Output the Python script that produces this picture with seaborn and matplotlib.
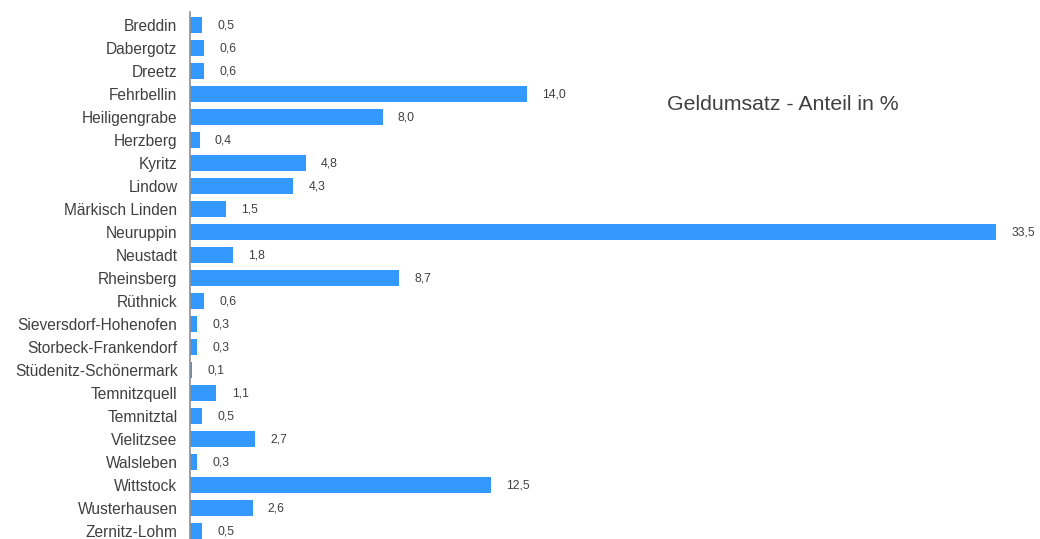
import pandas as pd
import seaborn as sns
import matplotlib.pyplot as plt

gemeinden = ['Breddin', 'Dabergotz', 'Dreetz', 'Fehrbellin', 'Heiligengrabe', 'Herzberg',
             'Kyritz', 'Lindow', 'Märkisch Linden', 'Neuruppin', 'Neustadt', 'Rheinsberg',
             'Rüthnick', 'Sieversdorf-Hohenofen', 'Storbeck-Frankendorf',
             'Stüdenitz-Schönermark', 'Temnitzquell', 'Temnitztal', 'Vielitzsee',
             'Walsleben', 'Wittstock', 'Wusterhausen', 'Zernitz-Lohm']
anteil = [0.5, 0.6, 0.6, 14.0, 8.0, 0.4, 4.8, 4.3, 1.5, 33.5, 1.8, 8.7, 0.6, 0.3, 0.3,
          0.1, 1.1, 0.5, 2.7, 0.3, 12.5, 2.6, 0.5]

df = pd.DataFrame({'gemeinde': gemeinden, 'anteil': anteil})

sns.set_style('white')
plt.rcParams['font.family'] = ['Liberation Sans', 'DejaVu Sans']

fig = plt.figure(figsize=(10.4, 5.39), dpi=100)
ax = fig.add_axes([190 / 1040, 0, 835 / 1040, 527 / 539])

sns.barplot(data=df, x='anteil', y='gemeinde', orient='h', color='#3399ff',
            saturation=1, width=0.7, linewidth=0, ax=ax)

# value labels with comma decimals
for i, v in enumerate(anteil):
    ax.annotate(f'{v:.1f}'.replace('.', ','), (v, i), xytext=(11, 0),
                textcoords='offset points', va='center', ha='left',
                fontsize=8.8, color='#404040')

ax.set_xlim(0, 34.7)
ax.set_ylim(22.34, -0.57)
ax.set_xlabel('')
ax.set_ylabel('')
ax.set_xticks([])
ax.tick_params(axis='y', length=0, labelsize=11.2, labelcolor='#404040', pad=9)
for s in ['top', 'right', 'bottom']:
    ax.spines[s].set_visible(False)
ax.spines['left'].set_color('#909090')
ax.spines['left'].set_linewidth(1.2)

fig.text(667 / 1040, 1 - 105 / 539, 'Geldumsatz - Anteil in %', fontsize=15.3,
         color='#404040', va='center', ha='left')

fig.savefig('out.png', dpi=100)
